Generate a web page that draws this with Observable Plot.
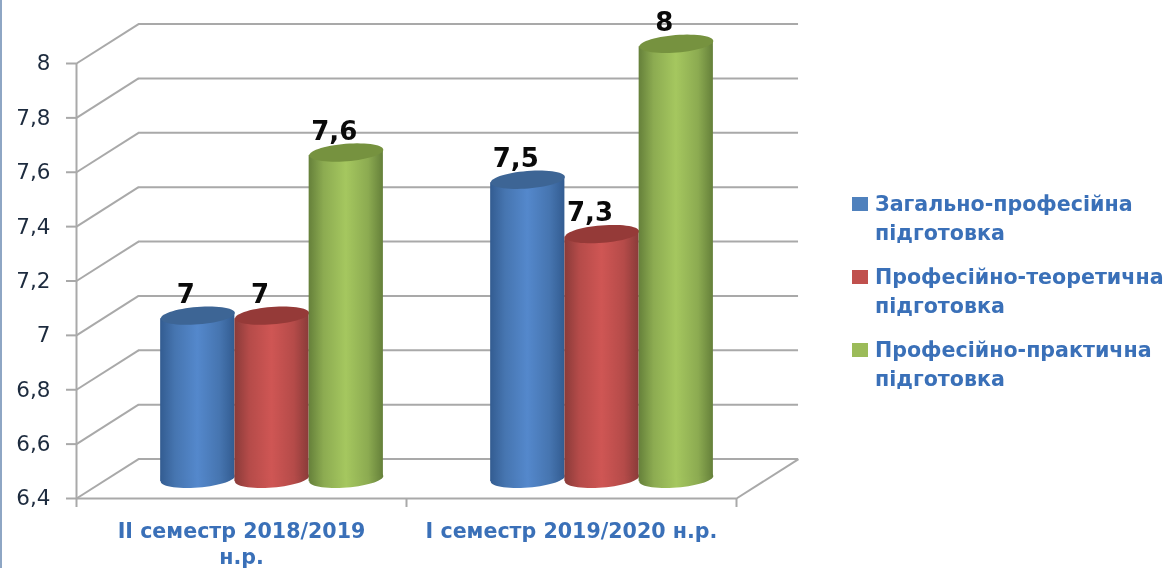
<!doctype html>
<html><head><meta charset="utf-8">
<script src="https://cdn.jsdelivr.net/npm/d3@7"></script>
<script src="https://cdn.jsdelivr.net/npm/@observablehq/plot@0.6"></script>
<style>
html,body{margin:0;padding:0;background:#fff;overflow:hidden}
#wrap{position:relative;width:1171px;height:568px;overflow:hidden;filter:blur(.55px)}
#wrap:before{content:"";position:absolute;left:0;top:0;bottom:0;width:2px;background:#8ea6c4}
#chart svg{display:block}
.lg{position:absolute;left:852px;width:319px;font:bold 20.6px/29px "DejaVu Sans";color:#3a70b8;white-space:nowrap}
.lg i{position:absolute;left:0;top:7px;width:16px;height:14px}
.lg span{display:block;margin-left:23px}
</style></head><body>
<div id="wrap"><div id="chart"></div><div id="legend"></div></div>
<script>
const categories = ["II семестр 2018/2019\nн.р.", "І семестр 2019/2020 н.р."];
const seriesNames = ["Загально-професійна\nпідготовка", "Професійно-теоретична\nпідготовка", "Професійно-практична\nпідготовка"];
const generalValues = [7, 7.5];
const theoryValues = [7, 7.3];
const practiceValues = [7.6, 8];
const valueLabels = [["7","7,5"],["7","7,3"],["7,6","8"]];
const yTicks = [6.4, 6.6, 6.8, 7, 7.2, 7.4, 7.6, 7.8, 8];
const seriesColors = [
  {id:"gBlue", edge:"#335c91", soft:"#4675b0", mid:"#5488cc", top:"#3d6595", key:"#4f81bd"},
  {id:"gRed", edge:"#8a3b39", soft:"#b54b49", mid:"#cf5654", top:"#953a38", key:"#c0504d"},
  {id:"gGreen", edge:"#65803a", soft:"#8cab51", mid:"#a5c75f", top:"#76923f", key:"#9bbb59"}
];
const allValues = [generalValues, theoryValues, practiceValues];
const depthX = 0.188, depthY = 0.145, tilt = 0.0109;
const base = 6.4, barW = 0.225, groupStart = 0.255, grid = "#a9a9a9";
const rxPx = barW * 330 / 2;
const ellipse = {draw(c, size) {
  const r = Math.sqrt(size / Math.PI), a = -0.08, n = 60;
  for (let i = 0; i < n; i++) {
    const t = i / n * 2 * Math.PI, ex = r * Math.cos(t), ey = r * 0.235 * Math.sin(t);
    const px = ex * Math.cos(a) - ey * Math.sin(a), py = ex * Math.sin(a) + ey * Math.cos(a);
    i ? c.lineTo(px, py) : c.moveTo(px, py);
  }
  c.closePath();
}};
const defs = () => {
  const d = d3.create("svg:defs");
  for (const s of seriesColors) {
    const g = d.append("linearGradient").attr("id", s.id).attr("x1", 0).attr("x2", 1).attr("y1", 0).attr("y2", 0);
    [[0, s.edge], [.2, s.soft], [.5, s.mid], [.8, s.soft], [1, s.edge]].forEach(([o, c]) => g.append("stop").attr("offset", o).attr("stop-color", c));
  }
  return d.node();
};
const bars = allValues.map((vals, j) => vals.map((v, i) => ({
  v, label: valueLabels[j][i],
  x1: i + groupStart + j * barW, x2: i + groupStart + (j + 1) * barW,
  c: i + groupStart + (j + .5) * barW
})));
const cylinderMarks = bars.flatMap((b, j) => {
  const col = seriesColors[j], fill = `url(#${col.id})`;
  return b.flatMap(d => [
    Plot.dot([d], {x: "c", y: () => base + depthY / 2, r: rxPx, symbol: ellipse, fill, stroke: "none"}),
    Plot.areaY([-1, 1], {
      x: s => s < 0 ? d.x1 : d.x2,
      y1: s => base + depthY / 2 + s * tilt,
      y2: s => d.v + depthY / 2 + s * tilt,
      fill
    }),
    Plot.dot([d], {x: "c", y: q => q.v + depthY / 2, r: rxPx, symbol: ellipse, fill: col.top, stroke: "none"})
  ]);
});
const plot = Plot.plot({
  width: 1171, height: 568,
  marginLeft: 76, marginRight: 435, marginTop: 63, marginBottom: 70,
  style: {fontFamily: "DejaVu Sans", background: "transparent", overflow: "visible"},
  x: {type: "linear", domain: [0, 2], axis: null},
  y: {type: "linear", domain: [base, 8], axis: null},
  marks: [
    defs,
    Plot.ruleY(yTicks, {x1: () => depthX, x2: () => 2 + depthX, y: d => d + depthY, stroke: grid, strokeWidth: 2}),
    Plot.link(yTicks, {x1: () => 0, x2: () => depthX, y1: d => d, y2: d => d + depthY, stroke: grid, strokeWidth: 2}),
    Plot.link([base], {x1: () => 2, x2: () => 2 + depthX, y1: d => d, y2: d => d + depthY, stroke: grid, strokeWidth: 2}),
    Plot.ruleY([base], {x1: () => 0, x2: () => 2, stroke: grid, strokeWidth: 2}),
    Plot.ruleX([0], {y1: () => base - 0.033, y2: () => 8, stroke: grid, strokeWidth: 2}),
    Plot.ruleX([1, 2], {y1: () => base - 0.033, y2: () => base, stroke: grid, strokeWidth: 2}),
    Plot.axisY({ticks: yTicks, tickFormat: d => String(d).replace(".", ","), tickSize: 10, tickPadding: 16,
      color: "#1d2b3e", stroke: grid, strokeWidth: 2, fontSize: 21.5, anchor: "left", label: null}),
    ...cylinderMarks,
    Plot.text(categories, {x: (d, i) => i + .5, y: () => base, dy: 20, text: d => d, fill: "#3a70b8",
      fontWeight: "bold", fontSize: 20.6, lineHeight: 1.3, lineAnchor: "top"}),
    Plot.text(bars.flat(), {x: "c", y: "v", dx: -12, dy: -41, text: "label", fill: "#0a0a0a",
      fontWeight: "bold", fontSize: 26})
  ]
});
document.getElementById("chart").append(plot);
const legend = document.getElementById("legend");
seriesNames.forEach((n, j) => {
  const el = document.createElement("div");
  el.className = "lg";
  el.style.top = (190 + j * 73) + "px";
  el.innerHTML = `<i style="background:${seriesColors[j].key}"></i>` + n.split("\n").map(t => `<span>${t}</span>`).join("");
  legend.append(el);
});
</script></body></html>
